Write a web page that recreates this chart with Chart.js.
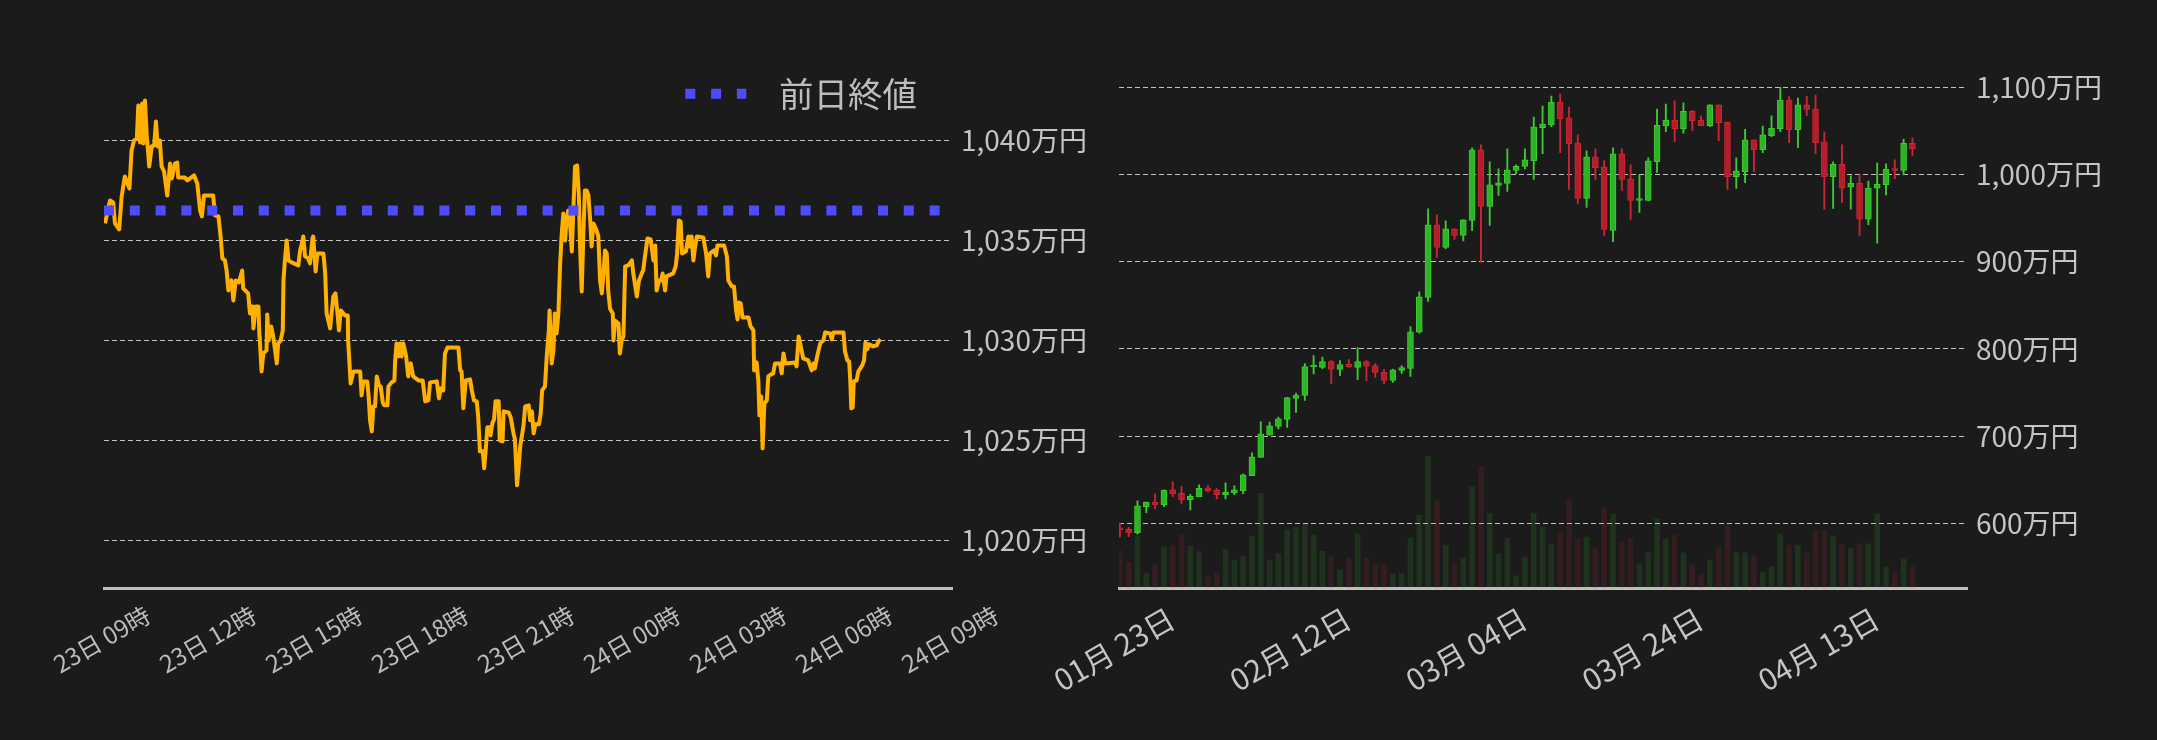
<!DOCTYPE html>
<html>
<head>
<meta charset="utf-8">
<script src="https://cdn.jsdelivr.net/npm/chart.js@4"></script>
<style>
  html, body { margin: 0; background: #1b1b1b; }
  #wrap { position: relative; width: 2157px; height: 740px; overflow: hidden; }
  .box { position: absolute; top: 0; height: 740px; }
  #left { left: 0; width: 1100px; }
  #right { left: 1000px; width: 1157px; }
</style>
</head>
<body>
<div id="wrap">
  <div class="box" id="left"><canvas id="intraday"></canvas></div>
  <div class="box" id="right"><canvas id="daily"></canvas></div>
</div>
<script>
// ---- intraday line (万円), hours after 23日 09時 ----
const hourTicks = [0, 3, 6, 9, 12, 15, 18, 21, 24];
const hourLabels = ['23日 09時', '23日 12時', '23日 15時', '23日 18時', '23日 21時',
  '24日 00時', '24日 03時', '24日 06時', '24日 09時'];
const lineTicks = [1020, 1025, 1030, 1035, 1040];
const prevClose = 1036.5;

const priceHours = [
  0.03, 0.17, 0.26, 0.31, 0.43, 0.50, 0.59, 0.72, 0.78, 0.85,
  0.93, 0.97, 1.02, 1.08, 1.11, 1.16, 1.21, 1.28, 1.35, 1.42,
  1.47, 1.52, 1.58, 1.63, 1.70, 1.79, 1.87, 1.92, 2.01, 2.07,
  2.10, 2.29, 2.36, 2.55, 2.64, 2.72, 2.77, 2.83, 3.09, 3.14,
  3.24, 3.30, 3.35, 3.42, 3.47, 3.52, 3.61, 3.66, 3.73, 3.82,
  3.91, 3.94, 4.08, 4.13, 4.20, 4.23, 4.29, 4.37, 4.40, 4.41,
  4.46, 4.51, 4.60, 4.62, 4.66, 4.73, 4.79, 4.89, 4.93, 5.00,
  5.06, 5.08, 5.12, 5.17, 5.22, 5.31, 5.50, 5.55, 5.60, 5.64,
  5.69, 5.78, 5.83, 5.90, 5.92, 5.99, 6.04, 6.21, 6.26, 6.30,
  6.40, 6.49, 6.55, 6.60, 6.65, 6.70, 6.82, 6.90, 6.91, 6.98,
  7.06, 7.25, 7.29, 7.34, 7.45, 7.49, 7.53, 7.58, 7.62, 7.67,
  7.72, 7.78, 7.83, 7.89, 7.93, 8.02, 8.05, 8.14, 8.22, 8.24,
  8.28, 8.33, 8.38, 8.42, 8.47, 8.55, 8.61, 8.68, 8.75, 8.90,
  9.02, 9.09, 9.18, 9.23, 9.42, 9.48, 9.53, 9.60, 9.65, 9.72,
  10.03, 10.08, 10.12, 10.17, 10.24, 10.36, 10.41, 10.47, 10.55, 10.59,
  10.64, 10.72, 10.76, 10.80, 10.85, 10.91, 10.94, 10.99, 11.04, 11.08,
  11.17, 11.20, 11.28, 11.31, 11.45, 11.51, 11.59, 11.63, 11.69, 11.74,
  11.78, 11.87, 11.92, 12.02, 12.06, 12.11, 12.16, 12.21, 12.31, 12.36,
  12.40, 12.48, 12.53, 12.59, 12.61, 12.64, 12.67, 12.72, 12.76, 12.81,
  12.86, 12.91, 12.95, 13.00, 13.05, 13.09, 13.14, 13.19, 13.24, 13.28,
  13.33, 13.39, 13.44, 13.47, 13.52, 13.57, 13.61, 13.66, 13.71, 13.76,
  13.80, 13.85, 13.94, 13.99, 14.04, 14.09, 14.13, 14.18, 14.23, 14.27,
  14.32, 14.40, 14.42, 14.46, 14.56, 14.60, 14.65, 14.70, 14.75, 14.84,
  14.94, 14.98, 15.08, 15.14, 15.22, 15.26, 15.31, 15.38, 15.47, 15.55,
  15.60, 15.64, 15.71, 15.77, 15.81, 15.88, 15.92, 16.11, 16.18, 16.22,
  16.27, 16.32, 16.36, 16.47, 16.54, 16.58, 16.63, 16.68, 16.73, 16.78,
  16.96, 17.04, 17.10, 17.15, 17.27, 17.32, 17.36, 17.55, 17.63, 17.67,
  17.77, 17.83, 17.89, 17.93, 17.97, 18.02, 18.07, 18.24, 18.30, 18.38,
  18.40, 18.47, 18.52, 18.55, 18.60, 18.64, 18.69, 18.76, 18.80, 18.88,
  18.94, 18.99, 19.13, 19.18, 19.23, 19.28, 19.56, 19.60, 19.66, 19.72,
  19.79, 19.93, 20.03, 20.08, 20.12, 20.19, 20.27, 20.36, 20.41, 20.55,
  20.60, 20.64, 20.93, 20.97, 21.04, 21.09, 21.12, 21.15, 21.19, 21.22,
  21.30, 21.35, 21.46, 21.51, 21.55, 21.60, 21.65, 21.77, 21.87, 21.92,
  21.98
];
const prices = [
  1035.85, 1037.0, 1036.9, 1035.85, 1035.55, 1037.2, 1038.2, 1037.6, 1039.5, 1040.0,
  1040.1, 1041.75, 1039.9, 1041.85, 1039.85, 1042.0, 1040.25, 1038.7, 1039.7, 1039.75,
  1040.95, 1039.7, 1040.0, 1038.7, 1038.45, 1037.25, 1038.85, 1038.1, 1038.85, 1038.9,
  1038.15, 1038.15, 1038.0, 1038.25, 1037.85, 1036.5, 1036.2, 1037.25, 1037.25, 1036.25,
  1036.2, 1035.2, 1034.1, 1034.0, 1033.5, 1032.5, 1033.0, 1032.0, 1033.0, 1032.9,
  1033.5, 1032.6, 1032.35, 1031.35, 1031.7, 1030.6, 1031.7, 1031.7, 1030.2, 1030.0,
  1028.45, 1029.35, 1029.5, 1031.3, 1030.0, 1030.7, 1030.2, 1028.85, 1029.85, 1030.0,
  1030.5, 1033.0, 1034.0, 1035.0, 1034.0, 1033.9, 1033.75, 1034.5, 1034.85, 1035.2,
  1034.2, 1034.1, 1033.85, 1035.1, 1035.2, 1033.45, 1034.35, 1034.35, 1033.35, 1031.35,
  1030.6, 1032.2, 1032.35, 1031.5, 1030.5, 1031.5, 1031.25, 1031.25, 1030.0, 1027.85,
  1028.45, 1028.45, 1027.25, 1027.95, 1027.95, 1027.2, 1026.0, 1025.45, 1026.7, 1026.7,
  1028.2, 1027.75, 1027.7, 1026.9, 1026.75, 1026.75, 1027.7, 1027.9, 1028.0, 1029.0,
  1029.85, 1029.2, 1029.85, 1029.2, 1029.85, 1029.2, 1028.2, 1028.85, 1028.2, 1028.0,
  1028.0, 1026.95, 1027.0, 1027.9, 1027.95, 1027.1, 1027.6, 1027.5, 1029.35, 1029.65,
  1029.65, 1028.5, 1028.45, 1026.6, 1028.0, 1028.05, 1027.5, 1027.0, 1026.95, 1026.2,
  1024.45, 1024.45, 1023.6, 1024.45, 1025.65, 1025.65, 1025.25, 1025.85, 1026.05, 1026.95,
  1026.95, 1025.0, 1024.95, 1026.45, 1026.4, 1026.15, 1025.35, 1025.05, 1022.75, 1023.75,
  1024.7, 1025.7, 1026.7, 1026.75, 1026.0, 1026.45, 1025.35, 1025.8, 1025.8, 1026.35,
  1027.5, 1027.7, 1029.2, 1030.5, 1031.5, 1030.2, 1028.85, 1029.5, 1031.35, 1030.35,
  1031.35, 1033.85, 1035.2, 1036.35, 1035.0, 1036.0, 1036.5, 1035.85, 1034.45, 1036.35,
  1038.7, 1038.75, 1037.2, 1034.85, 1032.45, 1035.5, 1037.5, 1037.5, 1037.25, 1036.0,
  1034.7, 1035.85, 1035.5, 1035.2, 1033.0, 1032.35, 1033.2, 1034.5, 1034.35, 1032.5,
  1031.6, 1031.35, 1030.0, 1031.0, 1030.85, 1029.35, 1030.0, 1030.2, 1033.7, 1033.75,
  1034.0, 1033.35, 1032.2, 1033.0, 1033.35, 1033.5, 1034.2, 1035.1, 1035.05, 1034.0,
  1034.75, 1032.5, 1033.0, 1033.0, 1033.35, 1032.5, 1033.2, 1033.35, 1033.7, 1034.35,
  1036.0, 1035.95, 1034.35, 1034.45, 1035.2, 1034.7, 1035.2, 1034.0, 1034.7, 1035.2,
  1035.15, 1034.35, 1033.2, 1034.35, 1034.5, 1034.25, 1034.75, 1034.75, 1034.2, 1033.0,
  1032.7, 1032.7, 1031.5, 1031.05, 1031.9, 1031.85, 1031.15, 1031.15, 1030.7, 1030.5,
  1028.5, 1028.9, 1027.95, 1026.25, 1027.2, 1024.6, 1026.85, 1027.0, 1028.2, 1028.3,
  1028.35, 1028.85, 1028.85, 1028.35, 1029.35, 1028.85, 1028.9, 1028.7, 1030.2, 1029.7,
  1029.1, 1029.0, 1028.5, 1028.85, 1028.6, 1029.25, 1029.85, 1030.0, 1030.4, 1030.35,
  1030.05, 1030.4, 1030.4, 1029.45, 1029.0, 1028.95, 1028.0, 1026.6, 1026.65, 1027.95,
  1028.0, 1028.45, 1028.75, 1029.0, 1029.9, 1029.55, 1029.8, 1029.7, 1029.75, 1029.95,
  1030.05
];

// ---- daily candles (万円) ----
const dateTicks = [0, 20, 40, 60, 80];
const dateLabels = ['01月 23日', '02月 12日', '03月 04日', '03月 24日', '04月 13日'];
const priceTicks = [600, 700, 800, 900, 1000, 1100];

const candleOpen = [
  593.5, 593.1, 589.3, 619.2, 624.5, 621.5, 638.3, 634.5, 627.2, 630.7,
  640.6, 638.0, 633.0, 634.9, 637.5, 654.8, 675.5, 701.1, 711.1, 719.2,
  743.3, 746.7, 779.3, 778.9, 785.4, 776.6, 782.4, 778.9, 785.4, 780.8,
  773.2, 764.0, 775.5, 777.8, 819.1, 859.2, 942.4, 916.4, 937.8, 930.2,
  947.3, 1028.2, 963.4, 987.4, 989.7, 1004.6, 1009.2, 1016.0, 1053.8, 1057.3,
  1083.2, 1064.9, 1036.3, 972.5, 1020.2, 1008.8, 935.9, 1023.7, 995.0, 970.2,
  970.2, 1014.9, 1056.1, 1062.2, 1052.3, 1072.5, 1062.2, 1056.1, 1079.8, 1060.3,
  997.7, 1003.4, 1039.7, 1028.6, 1044.7, 1052.7, 1085.5, 1051.5, 1079.8, 1075.2,
  1037.4, 997.7, 1011.8, 985.5, 990.1, 948.9, 984.4, 988.5, 1006.1, 1004.6,
  1035.9
];
const candleHigh = [
  600.0, 595.4, 625.7, 624.5, 633.7, 638.3, 647.5, 642.1, 633.3, 644.1,
  643.3, 639.8, 646.4, 642.9, 656.7, 680.8, 716.5, 716.1, 721.8, 744.4,
  749.4, 783.1, 792.3, 790.8, 786.6, 786.6, 787.7, 801.5, 786.6, 783.1,
  776.2, 777.0, 780.8, 825.6, 865.6, 960.7, 953.8, 946.9, 937.8, 948.1,
  1030.5, 1034.0, 1014.5, 1006.5, 1029.4, 1011.1, 1029.4, 1066.0, 1078.6, 1090.1,
  1092.4, 1077.5, 1045.4, 1027.1, 1029.4, 1016.0, 1030.5, 1029.4, 1011.1, 1000.0,
  1019.1, 1075.2, 1080.9, 1084.4, 1082.1, 1073.7, 1067.2, 1079.8, 1079.8, 1060.3,
  1019.1, 1051.9, 1039.7, 1055.7, 1067.2, 1100.0, 1089.3, 1087.8, 1090.1, 1091.2,
  1048.9, 1014.5, 1034.0, 998.5, 1000.8, 992.4, 1013.0, 1012.2, 1016.8, 1040.8,
  1042.0
];
const candleLow = [
  584.0, 584.7, 587.7, 612.3, 616.5, 619.2, 630.7, 622.2, 615.3, 630.7,
  636.0, 628.0, 628.0, 633.0, 634.1, 654.8, 675.5, 701.1, 708.4, 710.0,
  727.2, 741.0, 771.3, 777.4, 760.2, 769.3, 778.9, 764.8, 763.6, 767.4,
  760.2, 761.7, 772.0, 768.6, 818.0, 854.6, 905.0, 914.9, 925.6, 924.0,
  935.5, 899.2, 941.6, 976.0, 980.5, 1001.1, 1006.5, 994.3, 1024.0, 1055.0,
  1025.2, 982.8, 966.8, 962.2, 994.3, 930.2, 922.9, 981.7, 948.5, 956.5,
  969.8, 1002.3, 1049.2, 1037.8, 1047.3, 1050.4, 1056.1, 1055.0, 1038.9, 982.8,
  984.0, 990.8, 1003.4, 1025.2, 1043.5, 1049.2, 1036.6, 1030.9, 1067.6, 1024.0,
  959.9, 961.1, 967.9, 960.3, 930.2, 942.4, 921.4, 976.7, 995.4, 999.6,
  1021.8
];
const candleClose = [
  592.5, 589.3, 620.0, 624.1, 621.1, 637.9, 634.1, 627.2, 631.0, 640.2,
  637.5, 633.0, 635.6, 638.3, 655.6, 676.2, 702.7, 711.9, 719.9, 744.1,
  747.1, 779.7, 779.7, 785.4, 776.6, 782.0, 779.3, 785.4, 780.1, 773.2,
  764.0, 775.9, 778.5, 819.5, 859.9, 942.4, 916.4, 937.8, 930.2, 948.1,
  1028.2, 963.4, 988.2, 990.5, 1005.3, 1009.5, 1016.8, 1054.6, 1058.0, 1083.2,
  1064.1, 1035.5, 972.5, 1020.2, 1008.0, 937.0, 1023.7, 994.3, 970.2, 970.6,
  1015.6, 1056.5, 1062.2, 1052.7, 1072.5, 1061.8, 1056.1, 1079.8, 1059.5, 997.7,
  1004.2, 1039.7, 1028.6, 1045.4, 1053.1, 1085.5, 1051.5, 1079.8, 1074.8, 1036.6,
  997.7, 1011.8, 984.4, 990.1, 948.9, 984.4, 988.9, 1006.1, 1004.6, 1035.9,
  1029.8
];
const volumes = [
  7.2, 5.0, 10.0, 2.9, 4.7, 7.9, 8.1, 10.2, 8.1, 7.0,
  2.2, 2.9, 7.5, 5.4, 6.2, 10.0, 18.2, 5.4, 6.6, 11.2,
  11.7, 12.3, 10.2, 7.1, 6.0, 3.5, 5.8, 10.4, 5.8, 4.5,
  4.5, 2.7, 2.9, 9.6, 14.0, 25.3, 16.9, 8.3, 4.7, 5.8,
  19.4, 23.4, 14.4, 6.6, 9.6, 2.4, 6.0, 14.4, 11.7, 8.5,
  10.8, 16.9, 9.4, 9.8, 7.7, 15.4, 14.2, 8.9, 9.6, 4.7,
  6.8, 13.3, 9.4, 10.2, 6.8, 4.5, 2.7, 5.4, 7.9, 12.5,
  6.8, 6.8, 6.2, 3.1, 4.1, 10.4, 8.3, 8.3, 6.8, 11.0,
  11.0, 10.0, 8.3, 7.7, 8.5, 8.5, 14.2, 4.1, 3.1, 5.6,
  4.1
];

// ---- style ----
Chart.defaults.font.family = '"Noto Sans CJK JP", "Noto Sans", sans-serif';
Chart.defaults.color = '#c4c4c4';
const GRID = 'rgba(212,212,212,0.9)';
const AXIS = '#c0c0c0';
const UP = 'rgb(46,178,38)', UP_EDGE = 'rgb(60,204,46)';
const DOWN = 'rgb(178,30,42)', DOWN_EDGE = 'rgb(204,38,50)';
const yen = (v) => Number(v).toLocaleString('en-US') + '万円';

// x axis: fixed height, no extra side padding for the rotated labels
const fixXAxis = (scale) => {
  scale.height = 151.7;
  scale.paddingLeft = 0;
  scale.paddingRight = 0;
};

// let the legend draw below its (squeezed) layout box, over the plot
const legendRoom = {
  id: 'legendRoom',
  afterLayout(chart) {
    const lg = chart.legend;
    if (lg) {
      lg.bottom = lg.top + 100;
      lg.height = 100;
    }
  },
};

// ---- left: intraday ----
new Chart(document.getElementById('intraday'), {
  type: 'line',
  plugins: [legendRoom],
  data: {
    datasets: [
      {
        label: '前日終値',
        data: [{ x: 0, y: prevClose }, { x: 24, y: prevClose }],
        borderColor: '#4d4dff',
        borderWidth: 10,
        borderDash: [10, 15.8],
        borderCapStyle: 'butt',
        pointRadius: 0,
      },
      {
        label: 'price',
        data: priceHours.map((h, i) => ({ x: h, y: prices[i] })),
        borderColor: '#ffb000',
        borderWidth: 4,
        borderJoinStyle: 'round',
        pointRadius: 0,
        tension: 0,
      },
    ],
  },
  options: {
    responsive: true,
    maintainAspectRatio: false,
    animation: false,
    events: [],
    layout: { padding: { left: 104, top: 41.5, right: 0, bottom: 0 } },
    plugins: {
      tooltip: { enabled: false },
      legend: {
        position: 'top',
        align: 'end',
        fullSize: false,
        maxHeight: 25,
        labels: {
          usePointStyle: true,
          pointStyle: 'line',
          pointStyleWidth: 61,
          padding: 35,
          color: '#bdbdbd',
          font: { size: 34.5 },
          generateLabels: (chart) => {
            const ds = chart.data.datasets[0];
            return [{
              text: '  ' + ds.label,
              datasetIndex: 0,
              fillStyle: ds.borderColor,
              strokeStyle: ds.borderColor,
              lineWidth: ds.borderWidth,
              lineDash: ds.borderDash,
              lineCap: 'butt',
              pointStyle: 'line',
              fontColor: '#bdbdbd',
            }];
          },
        },
      },
    },
    scales: {
      x: {
        type: 'linear',
        min: 0,
        max: 24,
        afterBuildTicks: (axis) => { axis.ticks = hourTicks.map((v) => ({ value: v })); },
        afterFit: fixXAxis,
        grid: { display: false, drawTicks: false },
        border: { display: true, color: AXIS, width: 3 },
        ticks: {
          autoSkip: false,
          minRotation: 30,
          maxRotation: 30,
          padding: 12,
          labelOffset: 44,
          color: '#bcbcbc',
          font: { size: 24 },
          callback: (v, i) => hourLabels[i],
        },
      },
      y: {
        position: 'right',
        min: 1017.6,
        max: 1043.7,
        afterBuildTicks: (axis) => { axis.ticks = lineTicks.map((v) => ({ value: v })); },
        afterFit: (scale) => { scale.width = 148; },
        grid: { color: GRID, lineWidth: 1, drawTicks: false },
        border: { display: false, dash: [5, 3] },
        ticks: { padding: 9, font: { size: 28 }, color: '#c4c4c4', callback: yen },
      },
    },
  },
});

// ---- right: daily candles + volume ----
const rising = candleClose.map((c, i) => c >= candleOpen[i]);
const idx = candleOpen.map((_, i) => i);

new Chart(document.getElementById('daily'), {
  type: 'bar',
  data: {
    datasets: [
      {
        label: 'body',
        data: idx.map((i) => ({ x: i, y: [candleOpen[i], candleClose[i]] })),
        backgroundColor: rising.map((r) => (r ? UP : DOWN)),
        borderColor: rising.map((r) => (r ? UP_EDGE : DOWN_EDGE)),
        borderWidth: 1,
        borderSkipped: false,
        barThickness: 6,
        minBarLength: 2,
        grouped: false,
        clip: 0,
      },
      {
        label: 'wick',
        data: idx.map((i) => ({ x: i, y: [candleLow[i], candleHigh[i]] })),
        backgroundColor: rising.map((r) => (r ? UP_EDGE : DOWN_EDGE)),
        borderWidth: 0,
        barThickness: 1.2,
        grouped: false,
        clip: 0,
      },
      {
        label: 'volume',
        yAxisID: 'yVol',
        data: idx.map((i) => ({ x: i, y: volumes[i] })),
        backgroundColor: rising.map((r) => (r ? 'rgba(55,190,45,0.14)' : 'rgba(200,40,50,0.14)')),
        borderWidth: 0,
        barThickness: 5,
        grouped: false,
        clip: 0,
      },
    ],
  },
  options: {
    responsive: true,
    maintainAspectRatio: false,
    animation: false,
    events: [],
    layout: { padding: { left: 119, top: 66.5, right: 0, bottom: 0 } },
    plugins: { legend: { display: false }, tooltip: { enabled: false } },
    scales: {
      x: {
        type: 'linear',
        offset: false,
        min: -0.1,
        max: 96.2,
        afterBuildTicks: (axis) => { axis.ticks = dateTicks.map((v) => ({ value: v })); },
        afterFit: fixXAxis,
        grid: { display: false, drawTicks: false },
        border: { display: true, color: AXIS, width: 3 },
        ticks: {
          autoSkip: false,
          minRotation: 30,
          maxRotation: 30,
          padding: 12,
          labelOffset: 52,
          color: '#c4c4c4',
          font: { size: 30 },
          callback: (v, i) => dateLabels[i],
        },
      },
      y: {
        position: 'right',
        min: 525.5,
        max: 1123.9,
        afterBuildTicks: (axis) => { axis.ticks = priceTicks.map((v) => ({ value: v })); },
        afterFit: (scale) => { scale.width = 190; },
        grid: { color: GRID, lineWidth: 1, drawTicks: false },
        border: { display: false, dash: [5, 3] },
        ticks: { padding: 9, font: { size: 28 }, color: '#c4c4c4', callback: yen },
      },
      yVol: {
        display: false,
        min: 0,
        max: 100,
      },
    },
  },
});
</script>
</body>
</html>
